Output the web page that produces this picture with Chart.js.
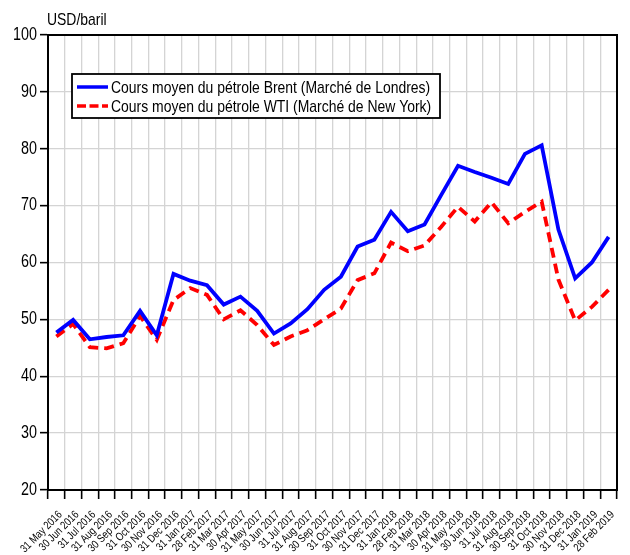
<!DOCTYPE html>
<html>
<head>
<meta charset="utf-8">
<script src="https://cdn.jsdelivr.net/npm/chart.js@4.4.1/dist/chart.umd.min.js"></script>
<style>
  html, body { margin: 0; padding: 0; background: #fff; }
  #wrap { width: 630px; height: 555px; position: relative; }
</style>
</head>
<body>
<div id="wrap"><canvas id="c" width="630" height="555"></canvas></div>
<script>
// ---- data ----
const categories = [
  '31 May 2016','30 Jun 2016','31 Jul 2016','31 Aug 2016','30 Sep 2016','31 Oct 2016',
  '30 Nov 2016','31 Dec 2016','31 Jan 2017','28 Feb 2017','31 Mar 2017','30 Apr 2017',
  '31 May 2017','30 Jun 2017','31 Jul 2017','31 Aug 2017','30 Sep 2017','31 Oct 2017',
  '30 Nov 2017','31 Dec 2017','31 Jan 2018','28 Feb 2018','31 Mar 2018','30 Apr 2018',
  '31 May 2018','30 Jun 2018','31 Jul 2018','31 Aug 2018','30 Sep 2018','31 Oct 2018',
  '30 Nov 2018','31 Dec 2018','31 Jan 2019','28 Feb 2019'
];
const brent = [47.7, 49.9, 46.5, 46.9, 47.2, 51.5, 47.2, 58.0, 56.8, 56.0,
               52.6, 54.0, 51.5, 47.5, 49.3, 51.8, 55.2, 57.5, 62.8, 64.0,
               68.9, 65.5, 66.7, 71.9, 77.0, 75.9, 74.9, 73.8, 79.1, 80.6,
               65.8, 57.2, 60.0, 64.5];
const wti   = [47.0, 49.2, 45.1, 44.9, 45.8, 50.6, 46.4, 53.4, 55.5, 54.3,
               50.0, 51.6, 49.0, 45.5, 47.0, 48.1, 50.0, 51.9, 56.9, 58.1,
               63.5, 62.0, 63.0, 66.3, 69.8, 67.2, 70.6, 66.9, 68.9, 70.7,
               57.0, 49.8, 52.2, 55.2];
const seriesLabels = ['Cours moyen du pétrole Brent (Marché de Londres)',
                      'Cours moyen du pétrole WTI (Marché de New York)'];
const unitLabel = 'USD/baril';
const yMin = 20, yMax = 100, yStep = 10;

// ---- narrow text rendering (Arial-Narrow-like look) ----
const FAM = '"Liberation Sans", Arial, sans-serif';
const NARROW = 0.82;
function narrowText(ctx, text, x, y, size, align, baseline, angle) {
  ctx.save();
  ctx.translate(x, y);
  if (angle) ctx.rotate(angle);
  ctx.scale(NARROW, 1);
  ctx.font = size + 'px ' + FAM;
  ctx.textAlign = align;
  ctx.textBaseline = baseline;
  ctx.fillStyle = '#000';
  ctx.fillText(text, 0, 0);
  ctx.restore();
}

const overlay = {
  id: 'overlay',
  afterDraw(chart) {
    const { ctx, chartArea: a, scales } = chart;
    ctx.save();
    // frame
    ctx.strokeStyle = '#000';
    ctx.lineWidth = 2;
    ctx.strokeRect(a.left, a.top, a.right - a.left, a.bottom - a.top);

    // y tick labels
    const ys = scales.y;
    ys.ticks.forEach((t, i) => {
      narrowText(ctx, String(t.value), a.left - 11, ys.getPixelForTick(i), 17.5, 'right', 'middle', 0);
    });
    // x tick labels (rotated 45°)
    const xs = scales.x;
    xs.ticks.forEach((t, i) => {
      const lbl = chart.data.labels[t.value];
      narrowText(ctx, lbl, xs.getPixelForTick(i) + 4, a.bottom + 23, 11.3, 'right', 'middle', -Math.PI / 4);
    });

    // unit title
    narrowText(ctx, unitLabel, a.left - 1, a.top - 10, 17, 'left', 'alphabetic', 0);

    // legend
    const bx = a.left + 24, by = a.top + 39, bw = 368, bh = 44;
    ctx.fillStyle = '#fff';
    ctx.fillRect(bx, by, bw, bh);
    ctx.lineWidth = 1.8;
    ctx.strokeStyle = '#000';
    ctx.strokeRect(bx, by, bw, bh);
    const rows = [by + 13, by + 32];
    chart.data.datasets.forEach((ds, i) => {
      ctx.beginPath();
      ctx.strokeStyle = ds.borderColor;
      ctx.lineWidth = 3.5;
      ctx.setLineDash(ds.borderDash && ds.borderDash.length ? [9, 3.5] : []);
      ctx.moveTo(bx + 5, rows[i]);
      ctx.lineTo(bx + 36, rows[i]);
      ctx.stroke();
      ctx.setLineDash([]);
      narrowText(ctx, ds.label, bx + 39, rows[i] + 1, 17, 'left', 'middle', 0);
    });
    ctx.restore();
  }
};

new Chart(document.getElementById('c'), {
  type: 'line',
  data: {
    labels: categories,
    datasets: [
      { label: seriesLabels[0], data: brent, borderColor: '#0000ff', backgroundColor: '#0000ff',
        borderWidth: 3.8, pointRadius: 0, tension: 0, borderJoinStyle: 'miter' },
      { label: seriesLabels[1], data: wti, borderColor: '#ff0000', backgroundColor: '#ff0000',
        borderWidth: 3.8, borderDash: [10, 6], pointRadius: 0, tension: 0, borderJoinStyle: 'miter' }
    ]
  },
  options: {
    responsive: false,
    animation: false,
    devicePixelRatio: 1,
    layout: { padding: { top: 35, right: 13, left: 0, bottom: 0 } },
    plugins: { legend: { display: false }, tooltip: { enabled: false }, title: { display: false } },
    scales: {
      x: {
        type: 'category',
        offset: true,
        grid: { offset: true, color: '#d4d4d4', lineWidth: 1.3, tickColor: '#000', tickLength: 9, tickWidth: 1.6, drawOnChartArea: true },
        border: { display: true, color: '#000', width: 2 },
        ticks: { display: false, autoSkip: false },
        afterFit(scale) { scale.height = 65; }
      },
      y: {
        min: yMin, max: yMax,
        grid: { color: '#d4d4d4', lineWidth: 1.3, tickColor: '#000', tickLength: 8, tickWidth: 1.6 },
        border: { display: true, color: '#000', width: 2 },
        ticks: { display: false, stepSize: yStep },
        afterFit(scale) { scale.width = 48; }
      }
    }
  },
  plugins: [overlay]
});
</script>
</body>
</html>
